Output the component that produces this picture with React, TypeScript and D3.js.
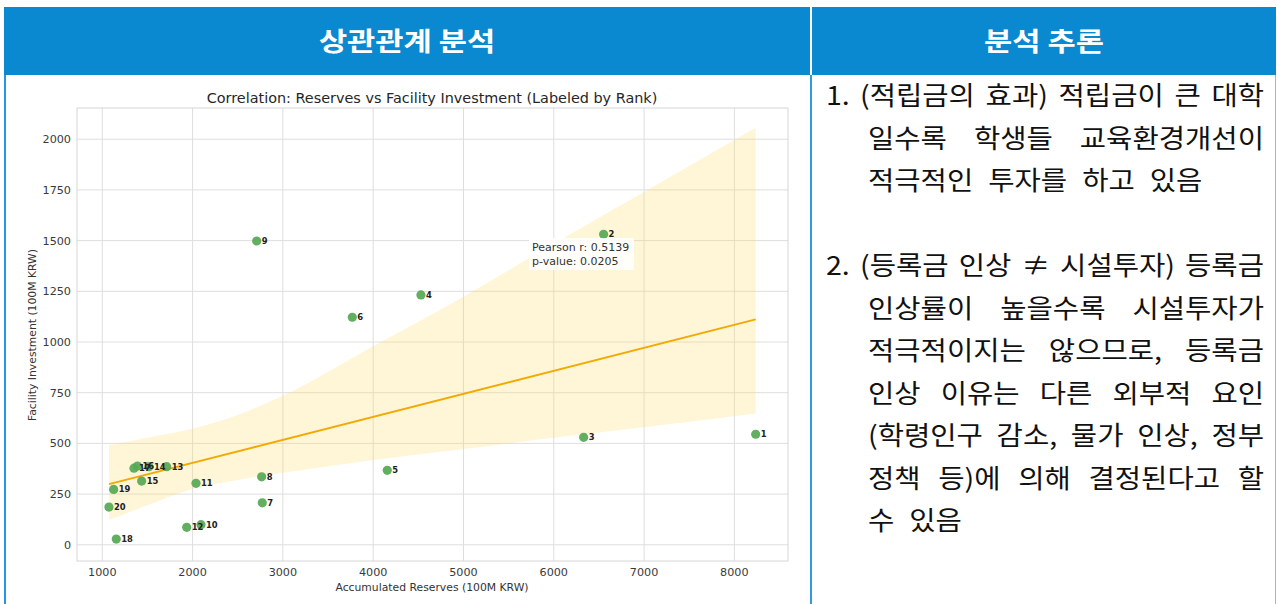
import React from "react";
import * as d3 from "d3";

// ---------- data ----------
const ranks = [1, 2, 3, 4, 5, 6, 7, 8, 9, 10, 11, 12, 13, 14, 15, 16, 17, 18, 19, 20];
const reserves = [8236, 6552, 6331, 4529, 4156, 3769, 2772, 2765, 2710, 2093, 2038, 1935, 1713, 1517, 1436, 1390, 1351, 1155, 1126, 1074];
const facility = [545, 1531, 530, 1232, 367, 1122, 207, 335, 1498, 99, 303, 86, 385, 385, 314, 388, 378, 28, 273, 186];

const xTicks = [1000, 2000, 3000, 4000, 5000, 6000, 7000, 8000];
const yTicks = [0, 250, 500, 750, 1000, 1250, 1500, 1750, 2000];

// confidence band edges (bootstrap CI)
const bandX = [1074, 1500, 2000, 2500, 3000, 4000, 5000, 6000, 7000, 8236];
const bandLow = [122, 195, 275, 320, 355, 418, 472, 528, 580, 648];
const bandHigh = [492, 528, 572, 640, 735, 979, 1223, 1485, 1740, 2056];

const pearsonText = ["Pearson r: 0.5139", "p-value: 0.0205"];

const titleText = "Correlation: Reserves vs Facility Investment (Labeled by Rank)";
const xLabel = "Accumulated Reserves (100M KRW)";
const yLabel = "Facility Investment (100M KRW)";

const leftHeader = "상관관계 분석";
const rightHeader = "분석 추론";

const item1Marker = "1.";
const item1Lines = [
  "(적립금의 효과) 적립금이 큰 대학",
  "일수록 학생들 교육환경개선이",
  "적극적인 투자를 하고 있음",
];
const item2Marker = "2.";
const item2Lines = [
  "(등록금 인상 ≠ 시설투자) 등록금",
  "인상률이 높을수록 시설투자가",
  "적극적이지는 않으므로, 등록금",
  "인상 이유는 다른 외부적 요인",
  "(학령인구 감소, 물가 인상, 정부",
  "정책 등)에 의해 결정된다고 할",
  "수 있음",
];

// ---------- helpers ----------
const CHART_FONT = "DejaVu Sans, sans-serif";
const KR_FONT = "'Noto Sans CJK KR', 'Noto Sans', sans-serif";
const BODY_SIZE = 26;
const SX = 1.1; // horizontal stretch to mimic the wider Korean face
const HEAD_SX = 1.18;
const NORMAL_GAP = 15;

let canvasCtx: CanvasRenderingContext2D | null = null;
function measure(text: string, font: string): number {
  if (!canvasCtx) {
    const c = document.createElement("canvas");
    canvasCtx = c.getContext("2d");
  }
  if (!canvasCtx) return text.length * 20;
  canvasCtx.font = font;
  return canvasCtx.measureText(text).width;
}

const bodyStyle = { fontFamily: KR_FONT, fontSize: BODY_SIZE, fill: "#111" } as React.CSSProperties;

function Word({ x, y, text, style, sx = SX }: { x: number; y: number; text: string; style: React.CSSProperties; sx?: number }) {
  return (
    <text transform={`translate(${x},${y}) scale(${sx},1)`} style={style}>
      {text}
    </text>
  );
}

function Line({ text, x0, x1, y, justify }: { text: string; x0: number; x1: number; y: number; justify: boolean }) {
  const font = `${BODY_SIZE}px 'Noto Sans CJK KR'`;
  const words = text.split(" ");
  const widths = words.map((w) => measure(w, font) * SX);
  const total = d3.sum(widths);
  const gap = justify && words.length > 1 ? (x1 - x0 - total) / (words.length - 1) : NORMAL_GAP;
  let cx = x0;
  return (
    <g>
      {words.map((w, i) => {
        const el = <Word key={i} x={cx} y={y} text={w} style={bodyStyle} />;
        cx += widths[i] + gap;
        return el;
      })}
    </g>
  );
}

// ---------- chart ----------
function Scatter() {
  const x = d3.scaleLinear().domain([720, 8594]).range([77, 788]);
  const y = d3.scaleLinear().domain([-80, 2154]).range([561, 108]);

  // least-squares fit
  const mx = d3.mean(reserves)!;
  const my = d3.mean(facility)!;
  let sxy = 0,
    sxx = 0;
  reserves.forEach((v, i) => {
    sxy += (v - mx) * (facility[i] - my);
    sxx += (v - mx) * (v - mx);
  });
  const slope = sxy / sxx;
  const intercept = my - slope * mx;
  const xmin = d3.min(reserves)!;
  const xmax = d3.max(reserves)!;
  const fitLine = d3.line<number>().x((d) => x(d)).y((d) => y(intercept + slope * d))([xmin, xmax]);

  const band = d3
    .area<number>()
    .x((_, i) => x(bandX[i]))
    .y0((_, i) => y(bandLow[i]))
    .y1((_, i) => y(bandHigh[i]))
    .curve(d3.curveMonotoneX)(bandX);

  const tickStyle = { fontFamily: CHART_FONT, fontSize: 11.2, fill: "#3a3a3a" } as React.CSSProperties;
  const labelStyle = { fontFamily: CHART_FONT, fontSize: 10.8, fill: "#333" } as React.CSSProperties;

  return (
    <g>
      <text x={432} y={103} textAnchor="middle" style={{ fontFamily: CHART_FONT, fontSize: 14.4, fill: "#262626" }}>
        {titleText}
      </text>
      <rect x={77} y={108} width={711} height={453} fill="#fff" />
      {xTicks.map((t) => (
        <line key={"gx" + t} x1={x(t)} x2={x(t)} y1={108} y2={561} stroke="#dedede" strokeWidth={1} />
      ))}
      {yTicks.map((t) => (
        <line key={"gy" + t} x1={77} x2={788} y1={y(t)} y2={y(t)} stroke="#dedede" strokeWidth={1} />
      ))}
      <path d={band || ""} fill="#ffd966" fillOpacity={0.26} stroke="none" />
      <path d={fitLine || ""} fill="none" stroke="#f2a900" strokeWidth={1.8} />
      {reserves.map((v, i) => (
        <circle key={"p" + i} cx={x(v)} cy={y(facility[i])} r={4.6} fill="#55a855" fillOpacity={0.92} />
      ))}
      {reserves.map((v, i) => (
        <text
          key={"l" + i}
          x={x(v) + 5}
          y={y(facility[i]) + 3}
          style={{ fontFamily: CHART_FONT, fontSize: 8.4, fontWeight: "bold", fill: "#222" }}
        >
          {ranks[i]}
        </text>
      ))}
      <rect x={529} y={238} width={105} height={32} fill="#fff" fillOpacity={0.85} />
      {pearsonText.map((t, i) => (
        <text key={t} x={532} y={251 + i * 14} style={{ fontFamily: CHART_FONT, fontSize: 11, fill: "#333" }}>
          {t}
        </text>
      ))}
      <rect x={77} y={108} width={711} height={453} fill="none" stroke="#d6d6d6" strokeWidth={1} />
      {xTicks.map((t) => (
        <text key={"tx" + t} x={x(t)} y={576} textAnchor="middle" style={tickStyle}>
          {t}
        </text>
      ))}
      {yTicks.map((t) => (
        <text key={"ty" + t} x={71} y={y(t) + 4} textAnchor="end" style={tickStyle}>
          {t}
        </text>
      ))}
      <text x={432} y={591} textAnchor="middle" style={labelStyle}>
        {xLabel}
      </text>
      <text transform={`translate(36,335) rotate(-90)`} textAnchor="middle" style={labelStyle}>
        {yLabel}
      </text>
    </g>
  );
}

export default function App() {
  const lh = 42.5;
  const base = 105;
  const right = 1264;
  const headStyle = { fontFamily: KR_FONT, fontSize: 26, fontWeight: "bold", fill: "#fff" } as React.CSSProperties;
  return (
    <svg
      width={1278}
      height={604}
      viewBox="0 0 1278 604"
      style={{ position: "absolute", left: 0, top: 0, background: "#fff" }}
    >
      <rect x={0} y={0} width={1278} height={604} fill="#fff" />
      {/* headers */}
      <rect x={4} y={7} width={806} height={68} fill="#0a89d0" />
      <rect x={812} y={7} width={464} height={68} fill="#0a89d0" />
      <text transform={`translate(407,51) scale(${HEAD_SX},1)`} textAnchor="middle" style={headStyle}>
        {leftHeader}
      </text>
      <text transform={`translate(1044,51) scale(${HEAD_SX},1)`} textAnchor="middle" style={headStyle}>
        {rightHeader}
      </text>
      {/* borders */}
      <line x1={5} x2={5} y1={75} y2={604} stroke="#2596e6" strokeWidth={2} />
      <line x1={811} x2={811} y1={75} y2={604} stroke="#2f9ae2" strokeWidth={2} />
      <line x1={1275.5} x2={1275.5} y1={75} y2={604} stroke="#7cc0ec" strokeWidth={1} />

      <Scatter />

      {/* right panel text */}
      <Word x={826} y={base} text={item1Marker} style={bodyStyle} />
      {item1Lines.map((t, i) => (
        <Line
          key={"a" + i}
          text={t}
          x0={i === 0 ? 860 : 868}
          x1={right}
          y={base + i * lh}
          justify={i < item1Lines.length - 1}
        />
      ))}
      <Word x={826} y={base + 4 * lh} text={item2Marker} style={bodyStyle} />
      {item2Lines.map((t, i) => (
        <Line
          key={"b" + i}
          text={t}
          x0={i === 0 ? 860 : 868}
          x1={right}
          y={base + (4 + i) * lh}
          justify={i < item2Lines.length - 1}
        />
      ))}
    </svg>
  );
}
